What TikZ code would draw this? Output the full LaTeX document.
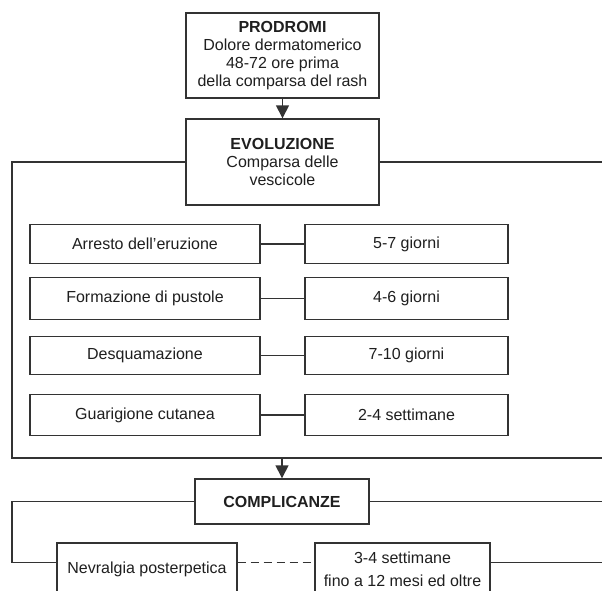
\documentclass[tikz,border=0pt]{standalone}
\usepackage{fontspec}
\setmainfont{Liberation Sans}
\usetikzlibrary{arrows.meta}

\begin{document}
\begin{tikzpicture}[x=1pt,y=-1pt,
	every node/.style={font=\fontsize{16}{18}\selectfont, text=black!88},
	box/.style={draw=black!80, line width=1.4pt, fill=white, align=center, inner sep=0pt},
	lnk/.style={draw=black!80, line width=1.4pt},
	arr/.style={lnk, -{Triangle[width=13pt,length=13pt]}}]
	\useasboundingbox (0,0) rectangle (602,590);
	\clip (0,0) rectangle (602,590);
	% top of the scheme
	\node[box, minimum width=193pt, minimum height=85pt] (prod) at (282.5,55.5) {\textbf{PRODROMI}\\Dolore dermatomerico\\48-72 ore prima\\della comparsa del rash};
	\node[box, minimum width=193pt, minimum height=86pt] (evol) at (282.5,162) {\textbf{EVOLUZIONE}\\Comparsa delle\\vescicole};
	\draw[arr] (prod) -- (evol);
	\coordinate (fl) at (12,300);
	\coordinate (fr) at (610,458);
	\draw[lnk] (evol.west) -| (fl) |- (fr);
	\draw[lnk] (evol.east) -- (evol.east -| fr);
	% phases and durations
	\foreach \i/\y/\h/\a/\b in {1/244/39/{Arresto dell'eruzione}/{5-7 giorni}, 2/298.5/42/{Formazione di pustole}/{4-6 giorni}, 3/355.5/38/{Desquamazione}/{7-10 giorni}, 4/415/41/{Guarigione cutanea}/{2-4 settimane}} {
		\node[box, minimum width=230pt, minimum height=\h pt] (l\i) at (145,\y) {\a};
		\node[box, minimum width=203pt, minimum height=\h pt] (r\i) at (406.5,\y) {\b};
		\draw[lnk] (l\i) -- (r\i);
	}
	% complications
	\node[box, minimum width=174pt, minimum height=45pt] (compl) at (282,501.5) {\textbf{COMPLICANZE}};
	\draw[arr] (compl.north |- fr) -- (compl.north);
	\node[box, minimum width=180pt, minimum height=53pt] (nev) at (147,569.5) {Nevralgia posterpetica};
	\node[box, minimum width=175pt, minimum height=53pt] (dur) at (402.5,569.5) {3-4 settimane\\[5pt]fino a 12 mesi ed oltre};
	\coordinate (cl) at (12,530);
	\draw[lnk] (compl.west) -| (cl) |- ([yshift=7pt]nev.west);
	\draw[lnk] (compl.east) -- (610,501.5);
	\draw[lnk, dash pattern=on 8pt off 5pt] ([yshift=7pt]nev.east) -- ([yshift=7pt]dur.west);
	\draw[lnk] ([yshift=7pt]dur.east) -- (610,562.5);
\end{tikzpicture}
\end{document}
